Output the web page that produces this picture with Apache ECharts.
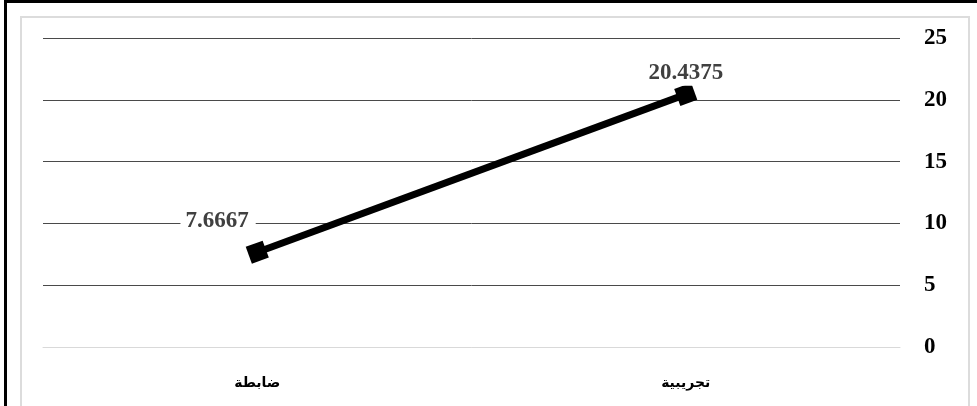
<!DOCTYPE html>
<html><head><meta charset="utf-8">
<script src="https://cdn.jsdelivr.net/npm/echarts@6/dist/echarts.min.js"></script>
<style>
html,body{margin:0;padding:0;background:#fff;}
#wrap{position:relative;width:977px;height:406px;overflow:hidden;}
#outer{position:absolute;left:4px;top:0px;width:1000px;height:500px;border-left:3px solid #000;border-top:3px solid #000;box-sizing:border-box;}
#inner{position:absolute;left:20px;top:16px;width:950px;height:400px;border:2px solid #dcdcdc;box-sizing:border-box;}
#chart{position:absolute;left:0;top:0;width:977px;height:406px;}
</style></head>
<body><div id="wrap"><div id="outer"></div><div id="inner"></div><div id="chart"></div></div>
<script>
const categories = ['ضابطة', 'تجريبية'];
const values = [7.6667, 20.4375];
const yTicks = [0, 5, 10, 15, 20, 25];

const chart = echarts.init(document.getElementById('chart'));
chart.setOption({
  animation: false,
  grid: {left: 43, right: 77, top: 38, bottom: 59},
  xAxis: {
    type: 'category', data: categories, boundaryGap: true,
    axisLine: {lineStyle: {color: '#d9d9d9', width: 1}},
    axisTick: {show: false},
    axisLabel: {margin: 29, color: '#000', fontWeight: 'bold', fontSize: 14, fontFamily: '"Liberation Serif","DejaVu Sans",serif'}
  },
  yAxis: {
    type: 'value', position: 'right', min: yTicks[0], max: yTicks[yTicks.length-1], interval: 5,
    axisLine: {show: false}, axisTick: {show: false},
    axisLabel: {margin: 24, color: '#000', fontWeight: 'bold', fontSize: 23, fontFamily: '"Liberation Serif",serif'},
    splitLine: {lineStyle: {color: ['#e0e0e0','#4a4a4a','#4a4a4a','#4a4a4a','#4a4a4a','#4a4a4a'], width: 1}}
  },
  series: [{
    type: 'line',
    lineStyle: {color: '#000', width: 7},
    itemStyle: {color: '#000'},
    symbol: 'rect', symbolSize: 18, symbolRotate: 20,
    label: {
      show: true, color: '#404040', fontWeight: 'bold', fontSize: 23,
      fontFamily: '"Liberation Serif",serif', backgroundColor: '#fff', padding: [1, 7, 1, 5],
      formatter: p => String(p.value)
    },
    data: [
      {value: values[0], label: {position: 'left', distance: 0, offset: [10, -31]}},
      {value: values[1], label: {position: 'top', distance: 2, offset: [1, 5]}}
    ]
  }]
});
</script></body></html>
